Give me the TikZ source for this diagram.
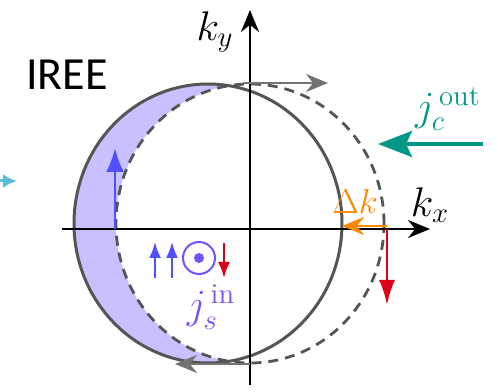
\documentclass[tikz,border=0pt]{standalone}
\usepackage{amsmath,amssymb}
\usepackage{fontspec}
\usepackage{tikz}
\usetikzlibrary{arrows.meta,calc,positioning}
\newfontfamily\ireefont{Carlito}
\definecolor{fermi}{RGB}{85,85,85}
\definecolor{shiftgray}{RGB}{115,115,115}
\definecolor{crescent}{RGB}{200,192,255}
\definecolor{spinblue}{RGB}{80,80,255}
\definecolor{spinred}{RGB}{220,0,25}
\definecolor{dkorange}{RGB}{255,135,0}
\definecolor{jteal}{RGB}{0,150,136}
\definecolor{jpurple}{RGB}{110,85,255}
\definecolor{lightcyan}{RGB}{90,190,215}

\begin{document}
\begin{tikzpicture}[x=0.5pt, y=0.5pt, every node/.style={inner sep=0pt}]
  \useasboundingbox (-250,-162) rectangle (248,229);
  % crescent between shifted and equilibrium Fermi circles
  \begin{scope}
    \clip (-250,-162) rectangle (-21,229);
    \fill[crescent, even odd rule] (-42,5.5) ellipse (134 and 139.5) (0,5.5) ellipse (134 and 139.5);
  \end{scope}
  \draw[fermi, line width=1.5pt] (-42,5.5) ellipse (134 and 139.5);
  \draw[fermi, line width=1.4pt, dash pattern=on 5pt off 3.5pt] (0,5.5) ellipse (134 and 139.5);
  % axes
  \coordinate (xl) at (-188,0);
  \coordinate (xr) at (180,0);
  \coordinate (yb) at (0,-156);
  \coordinate (yt) at (0,219);
  \draw[line width=1.4pt, -{Stealth[length=11pt,width=9pt]}] (xl) -- (xr);
  \draw[line width=1.4pt, -{Stealth[length=11pt,width=9pt]}] (yb) -- (yt);
  \node (kx) at (180,24) {\huge $k_x$};
  \node (ky) at (-35,197) {\huge $k_y$};
  \node (iree) at (-183,154) {\fontsize{23}{26}\selectfont\ireefont IREE};
  % motion of the Fermi circle
  \coordinate (topa) at (-7,146);
  \coordinate (topb) at (78,146);
  \coordinate (bota) at (0,-135);
  \coordinate (botb) at (-75,-135);
  \draw[shiftgray, line width=1.4pt, -{Stealth[length=11pt,width=9pt]}] (topa) -- (topb);
  \draw[shiftgray, line width=1.4pt, -{Stealth[length=11pt,width=9pt]}] (bota) -- (botb);
  % spin arrows at the Fermi edges
  \coordinate (blo) at (-135,0);
  \coordinate (bhi) at (-135,81);
  \coordinate (rhi) at (137,0);
  \coordinate (rlo) at (137,-76);
  \draw[spinblue, line width=1.3pt, -{Latex[length=12pt,width=9pt]}] (blo) -- (bhi);
  \draw[spinred, line width=1.3pt, -{Latex[length=12.5pt,width=8pt]}] (rhi) -- (rlo);
  % shift of the circle
  \coordinate (dka) at (137,3);
  \coordinate (dkb) at (92,3);
  \draw[dkorange, line width=1.4pt, -{Stealth[length=11pt,width=9pt]}] (dka) -- (dkb);
  \node[dkorange] (dk) at (105,27) {\LARGE $\Delta k$};
  % charge current out
  \coordinate (jca) at (233,85);
  \coordinate (jcb) at (128,85);
  \draw[jteal, line width=2pt, -{Stealth[length=17pt,width=13pt,inset=3pt]}] (jca) -- (jcb);
  \node[jteal] (jc) at (198,120) {\huge $j_c^{\,\text{out}}$};
  % spin current in
  \foreach \sx [count=\i] in {-95,-78} {
    \coordinate (up\i a) at (\sx,-49);
    \coordinate (up\i b) at (\sx,-13);
    \draw[spinblue, line width=1pt, -{Latex[length=8pt,width=6pt]}] (up\i a) -- (up\i b);
  }
  \node[draw=jpurple, line width=1pt, circle, minimum size=16pt] (sdot) at (-51,-29) {};
  \fill[jpurple] (sdot.center) circle (5);
  \coordinate (dna) at (-26,-14);
  \coordinate (dnb) at (-26,-49);
  \draw[spinred, line width=1pt, -{Latex[length=8pt,width=6pt]}] (dna) -- (dnb);
  \node[jpurple] (js) at (-39,-78) {\huge $j_s^{\,\text{in}}$};
  % incoming light (cut at the border)
  \coordinate (lia) at (-250,48);
  \coordinate (lib) at (-233,48);
  \draw[lightcyan, line width=1.5pt, -{Latex[length=7pt,width=7pt]}] (lia) -- (lib);
\end{tikzpicture}
\end{document}
